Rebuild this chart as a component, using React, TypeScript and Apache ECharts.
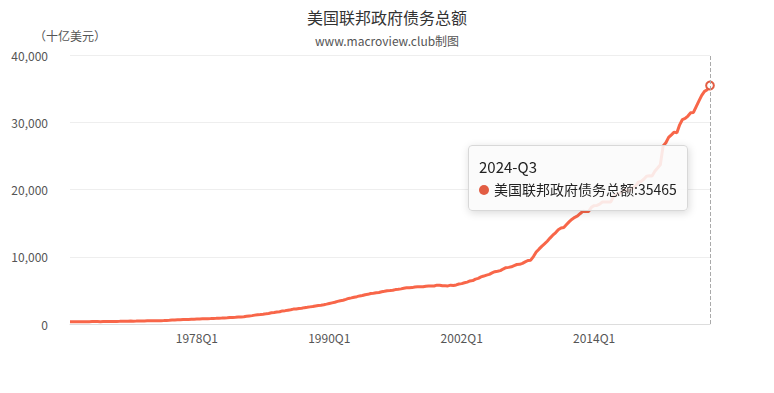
import React, { useEffect, useRef } from "react";
import * as echarts from "echarts";

const TITLE = "美国联邦政府债务总额";
const SUBTITLE = "www.macroview.club制图";
const SERIES_NAME = "美国联邦政府债务总额";
const UNIT = "（十亿美元）";

const START_YEAR = 1966;
const START_QUARTER = 3;
const END_YEAR = 2024;
const END_QUARTER = 3;
const TICK_LABELS = ["1978Q1", "1990Q1", "2002Q1", "2014Q1"];
const Y_TICKS = [0, 10000, 20000, 30000, 40000];

// Quarterly values, billions of USD, 1966Q3 .. 2024Q3
const DEBT = [
  324, 329,
  330, 323, 335, 341,
  348, 347, 357, 359,
  362, 353, 362, 366,
  372, 370, 381, 389,
  391, 398, 413, 425,
  428, 427, 436, 447,
  458, 458, 466, 470,
  474, 475, 481, 493,
  509, 533, 554, 577,
  599, 620, 635, 653,
  668, 675, 698, 719,
  739, 750, 772, 789,
  797, 805, 826, 845,
  870, 883, 907, 930,
  964, 971, 997, 1028,
  1058, 1079, 1142, 1197,
  1244, 1318, 1381, 1410,
  1463, 1517, 1572, 1663,
  1710, 1774, 1823, 1946,
  1986, 2059, 2125, 2215,
  2246, 2310, 2350, 2431,
  2487, 2548, 2602, 2684,
  2740, 2791, 2857, 2953,
  3052, 3143, 3233, 3364,
  3465, 3538, 3665, 3801,
  3881, 3984, 4065, 4177,
  4231, 4352, 4411, 4535,
  4576, 4646, 4692, 4800,
  4865, 4951, 4974, 5019,
  5117, 5161, 5224, 5323,
  5381, 5376, 5413, 5502,
  5542, 5548, 5526, 5614,
  5651, 5638, 5656, 5776,
  5773, 5686, 5674, 5662,
  5774, 5726, 5807, 5943,
  6006, 6126, 6228, 6405,
  6460, 6670, 6783, 6998,
  7131, 7274, 7379, 7596,
  7776, 7836, 7933, 8170,
  8371, 8420, 8507, 8680,
  8849, 8867, 9008, 9229,
  9437, 9492, 10025, 10700,
  11127, 11545, 11910, 12311,
  12773, 13202, 13562, 14025,
  14270, 14343, 14790, 15223,
  15582, 15856, 16066, 16433,
  16771, 16738, 16738, 17352,
  17602, 17632, 17824, 18141,
  18152, 18152, 18151, 18922,
  19264, 19381, 19573, 19977,
  19846, 19845, 20245, 20493,
  21090, 21195, 21516, 21974,
  22028, 22023, 22719, 23201,
  23687, 26477, 26945, 27748,
  28132, 28529, 28429, 29617,
  30401, 30568, 30929, 31419,
  31458, 32332, 33167, 34001,
  34587, 34832, 35465,
];

const CATEGORIES: string[] = [];
for (let y = START_YEAR; y <= END_YEAR; y++) {
  for (let q = 1; q <= 4; q++) {
    if (y === START_YEAR && q < START_QUARTER) continue;
    if (y === END_YEAR && q > END_QUARTER) break;
    CATEGORIES.push(`${y}Q${q}`);
  }
}

const FONT = "'Noto Sans CJK SC', 'Noto Sans', sans-serif";
const LINE_COLOR = "#e25d43";

export default function App() {
  const ref = useRef<HTMLDivElement>(null);
  useEffect(() => {
    document.body.style.margin = "0";
    document.body.style.overflow = "hidden";
    if (!ref.current) return;
    const chart = echarts.init(ref.current, undefined, { renderer: "svg" });
    chart.setOption({
      animation: false,
      textStyle: { fontFamily: FONT },
      title: {
        text: TITLE,
        subtext: SUBTITLE,
        left: "center",
        top: 4,
        itemGap: 9,
        textStyle: { fontSize: 16, fontWeight: "normal", color: "#333", fontFamily: FONT },
        subtextStyle: { fontSize: 12, color: "#555", fontFamily: FONT },
      },
      grid: { left: 70, right: 64, top: 55, bottom: 69, containLabel: false },
      tooltip: {
        trigger: "axis",
        alwaysShowContent: true,
        triggerOn: "none",
        position: [468, 145],
        backgroundColor: "rgba(250,250,250,0.88)",
        borderColor: "#d8d8d8",
        borderWidth: 1,
        padding: [10, 10],
        extraCssText: "box-shadow: 1px 2px 8px rgba(0,0,0,0.15); border-radius: 4px;",
        textStyle: { fontFamily: FONT, fontSize: 14, color: "#222" },
        axisPointer: {
          type: "line",
          lineStyle: { color: "#aaa", type: "dashed", width: 1 },
        },
        formatter: (params: any) => {
          const p = Array.isArray(params) ? params[0] : params;
          const name = String(p.name).replace("Q", "-Q");
          return (
            `<div style="line-height:22px;font-size:15px">${name}</div>` +
            `<div style="line-height:22px"><span style="display:inline-block;width:10px;height:10px;border-radius:5px;background:${LINE_COLOR};margin-right:5px"></span>${p.seriesName}:${p.value}</div>`
          );
        },
      },
      xAxis: {
        type: "category",
        data: CATEGORIES,
        boundaryGap: false,
        axisLine: { lineStyle: { color: "#ddd" } },
        axisTick: { show: false },
        axisLabel: {
          color: "#555",
          fontSize: 12,
          margin: 7,
          interval: (_i: number, v: string) => TICK_LABELS.includes(v),
        },
        splitLine: { show: false },
      },
      yAxis: {
        type: "value",
        min: Y_TICKS[0],
        max: Y_TICKS[Y_TICKS.length - 1],
        interval: Y_TICKS[1] - Y_TICKS[0],
        name: UNIT,
        nameLocation: "end",
        nameGap: 14,
        nameTextStyle: { color: "#555", fontSize: 12, align: "center" },
        axisLine: { show: false },
        axisTick: { show: false },
        axisLabel: { color: "#555", fontSize: 12, margin: 22 },
        splitLine: { lineStyle: { color: "#eee" } },
      },
      series: [
        {
          name: SERIES_NAME,
          type: "line",
          data: DEBT,
          showSymbol: false,
          symbol: "circle",
          symbolSize: 7,
          lineStyle: { color: LINE_COLOR, width: 3 },
          itemStyle: { color: "#fff", borderColor: LINE_COLOR, borderWidth: 2 },
          emphasis: { itemStyle: { color: "#fff", borderColor: LINE_COLOR, borderWidth: 2 } },
        },
      ],
    });
    chart.dispatchAction({ type: "showTip", seriesIndex: 0, dataIndex: DEBT.length - 1 });
    return () => chart.dispose();
  }, []);
  return <div ref={ref} style={{ width: 774, height: 393, background: "#fff" }} />;
}
